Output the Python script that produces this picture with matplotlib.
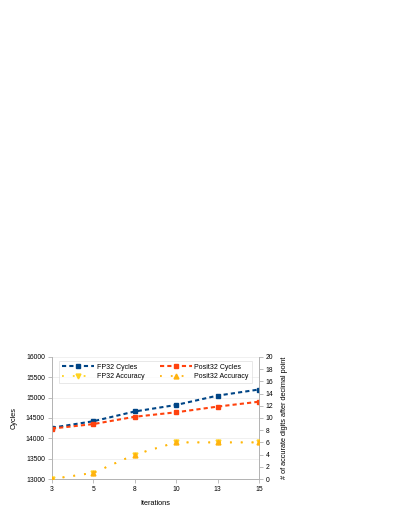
import numpy as np
import matplotlib
matplotlib.use('Agg')
from matplotlib import pyplot as plt

iterations = ['3', '5', '8', '10', '13', '15']
fp32_cycles = [14260, 14420, 14660, 14820, 15050, 15200]
posit32_cycles = [14240, 14350, 14530, 14640, 14780, 14900]
fp32_accuracy = [0, 1, 4, 6, 6, 6]
posit32_accuracy = [0, 1, 4, 6, 6, 6]

plt.rcParams['font.family'] = ['Liberation Sans', 'DejaVu Sans']
plt.rcParams['font.size'] = 4.9

fig = plt.figure(figsize=(3.99, 5.16), dpi=100)
ax = fig.add_axes([0.13, 0.0717, 0.519, 0.2365])
ax2 = ax.twinx()

x = np.arange(len(iterations))

l1, = ax.plot(x, fp32_cycles, linestyle=(0, (2, 1.5)), color='#004586', lw=1.5,
              marker='s', ms=3.5, label='FP32 Cycles', zorder=3)
l2, = ax.plot(x, posit32_cycles, linestyle=(0, (2, 1.5)), color='#ff420e', lw=1.5,
              marker='s', ms=3.5, label='Posit32 Cycles', zorder=3)
l3, = ax2.plot(x, fp32_accuracy, linestyle=(0, (1, 5)), color='#ffd320', lw=1.3,
               marker='v', ms=3.5, label='FP32 Accuracy', zorder=3)
l4, = ax2.plot(x, posit32_accuracy, linestyle=(0, (1, 5)), color='#ffb30f', lw=1.3,
               marker='^', ms=3.5, label='Posit32 Accuracy', zorder=3)

ax.set_xlim(0, 5)
ax.set_ylim(13000, 16000)
ax.set_yticks(np.arange(13000, 16001, 500))
ax2.set_ylim(0, 20)
ax2.set_yticks(np.arange(0, 21, 2))
ax.set_xticks(x)
ax.set_xticklabels(iterations)

ax.grid(axis='y', color='#eeeeee', lw=0.6)
ax.set_axisbelow(True)
for a in (ax, ax2):
    for s in a.spines.values():
        s.set_color('#b3b3b3')
        s.set_linewidth(0.6)
    a.tick_params(colors='#b3b3b3', labelcolor='black', length=3, width=0.6, pad=2)
ax2.spines['top'].set_visible(False)
ax.spines['top'].set_visible(False)

ax.set_xlabel('Iterations', fontsize=5.3, labelpad=5)
ax.set_ylabel('Cycles', fontsize=5.3, labelpad=6)
ax2.set_ylabel('# of accurate digits after decimal point', fontsize=5.3, labelpad=5)

leg = ax2.legend(handles=[l1, l3, l2, l4], ncol=2, loc='upper center',
                 bbox_to_anchor=(0.5, 0.97),
                 fontsize=5, frameon=True, fancybox=False, edgecolor='#dddddd',
                 handlelength=4.6, handletextpad=0.4, borderpad=0.45,
                 columnspacing=2.2, labelspacing=0.35, borderaxespad=0)
leg.get_frame().set_linewidth(0.6)

fig.savefig('out.png', dpi=100)
